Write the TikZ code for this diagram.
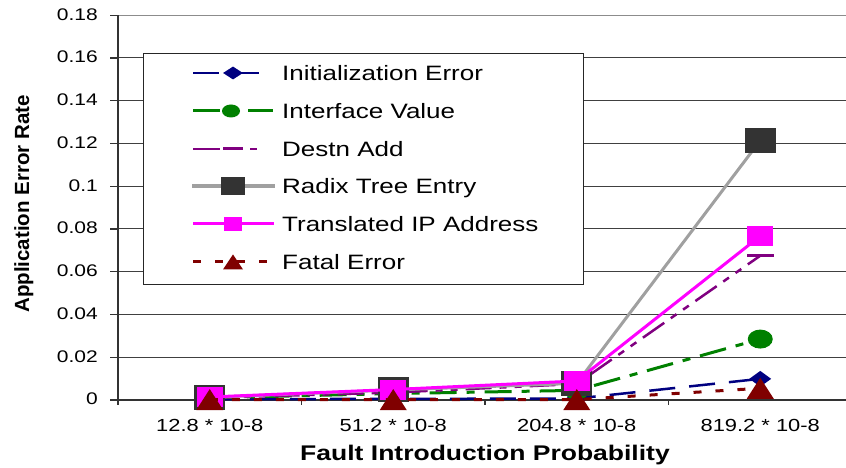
\documentclass[tikz,border=0pt]{standalone}
\usepackage{fontspec}
\usetikzlibrary{shapes.geometric}
\newfontfamily\chartfont{Liberation Sans}[FakeStretch=1.25]
\newfontfamily\plainfont{Liberation Sans}
\definecolor{initc}{RGB}{0,0,128}
\definecolor{ifacec}{RGB}{0,128,0}
\definecolor{destc}{RGB}{128,0,128}
\definecolor{radixc}{RGB}{160,160,160}
\definecolor{radixm}{RGB}{51,51,51}
\definecolor{transc}{RGB}{255,0,255}
\definecolor{fatalc}{RGB}{128,0,0}
\tikzset{
  grid line/.style={black!75, line width=1pt},
  axis line/.style={black!80, line width=1.2pt},
  ytick label/.style={font=\chartfont\fontsize{16.8}{18}\selectfont, anchor=base east, inner sep=0pt},
  xtick label/.style={font=\chartfont\fontsize{17.5}{20}\selectfont, anchor=base, inner sep=0pt},
  legend text/.style={font=\chartfont\fontsize{20.8}{24}\selectfont, anchor=base west, inner sep=0pt},
  init line/.style={initc, line width=2.5pt, dash pattern=on 26pt off 14pt},
  iface line/.style={ifacec, line width=3pt, dash pattern=on 27pt off 10pt on 8pt off 10pt},
  dest line/.style={destc, line width=2.5pt, dash pattern=on 26pt off 8pt on 7pt off 8pt on 7pt off 8pt},
  dest key/.style={destc, line width=2.5pt, dash pattern=on 27pt off 30pt on 7pt off 20pt},
  radix line/.style={radixc, line width=3pt},
  trans line/.style={transc, line width=3pt},
  fatal line/.style={fatalc, line width=3pt, dash pattern=on 8pt off 14pt},
  init mark/.style={diamond, fill=initc, inner sep=0pt, minimum width=22pt, minimum height=16pt},
  iface mark/.style={ellipse, fill=ifacec, inner sep=0pt, minimum width=25pt, minimum height=19pt},
  dest mark/.style={rectangle, fill=destc, inner sep=0pt, minimum width=27pt, minimum height=3pt},
  radix mark/.style={rectangle, fill=radixm, inner sep=0pt, minimum width=31pt, minimum height=25pt},
  trans mark/.style={rectangle, fill=transc, inner sep=0pt, minimum width=26pt, minimum height=20pt},
  fatal mark/.pic={\fill[fatalc] (-13.5pt,-10.5pt) -- (13.5pt,-10.5pt) -- (0pt,10.5pt) -- cycle;},
  fatal key/.pic={\fill[fatalc] (-10pt,-7.5pt) -- (10pt,-7.5pt) -- (0pt,7.5pt) -- cycle;},
}
\begin{document}
\begin{tikzpicture}[x=1pt, y=1pt]
\useasboundingbox (0,0) rectangle (846,468);

% horizontal gridlines, y tick marks and labels
\foreach \yy/\lab [count=\k] in {68/0, 110.75/0.02, 153.5/0.04, 196.25/0.06, 239/0.08,
    281.75/0.1, 324.5/0.12, 367.25/0.14, 410/0.16, 452.75/0.18} {
  \ifnum\k>1
    \ifnum\k<10
      \draw[grid line] (118,\yy) -- (846,\yy);
    \else
      \draw[black!45, line width=1pt] (118,\yy) -- (846,\yy);
    \fi
  \fi
  \draw[axis line] (110,\yy) -- (118,\yy);
  \node[ytick label] (yt\k) at (98,\yy-5) {\lab};
}

% axes and category ticks
\draw[axis line] (118,63) -- (118,452.75);
\draw[axis line] (118,68) -- (846,68);
\foreach \xx in {301.5, 485, 668.5}
  \draw[axis line] (\xx,68) -- (\xx,63);

% category labels and axis titles
\foreach \xx/\lab [count=\k] in {209.75/12.8, 393.25/51.2, 576.75/204.8, 760.25/819.2}
  \node[xtick label] (xt\k) at (\xx,36) {\lab\ * 10-8};
\node[font=\chartfont\bfseries\fontsize{21.2}{24}\selectfont, anchor=base, inner sep=0pt]
  (xtitle) at (485,7.5) {Fault Introduction Probability};
\node[font=\plainfont\bfseries\fontsize{20.5}{24}\selectfont, rotate=90, anchor=base, inner sep=0pt]
  (ytitle) at (29,264) {Application Error Rate};

% data points: one unit on the y axis is a rate of 1
\begin{scope}[yshift=68pt, y=2137.5pt]
  \foreach \n/\a/\b/\c/\d in {i/0.0004/0.0005/0.0007/0.0099,
      v/0.0010/0.0030/0.0045/0.0285,
      d/0.0010/0.0035/0.0075/0.0675,
      r/0.0012/0.0047/0.0078/0.1214,
      t/0.0014/0.0049/0.0089/0.0767,
      f/0.0002/0.0002/0.0002/0.0055} {
    \coordinate (\n1) at (209.75,\a);
    \coordinate (\n2) at (393.25,\b);
    \coordinate (\n3) at (576.75,\c);
    \coordinate (\n4) at (760.25,\d);
  }
\end{scope}

% Initialization Error
\draw[init line] (i1) -- (i2) -- (i3) -- (i4);
\foreach \k in {1,...,4} \node[init mark] (mi\k) at (i\k) {};
% Interface Value
\draw[iface line] (v1) -- (v2) -- (v3) -- (v4);
\foreach \k in {1,...,4} \node[iface mark] (mv\k) at (v\k) {};
% Destn Add
\draw[dest line] (d1) -- (d2) -- (d3) -- (d4);
\foreach \k in {1,...,4} \node[dest mark] (md\k) at (d\k) {};
% Radix Tree Entry
\draw[radix line] (r1) -- (r2) -- (r3) -- (r4);
\foreach \k in {1,...,4} \node[radix mark] (mr\k) at (r\k) {};
% Translated IP Address
\draw[trans line] (t1) -- (t2) -- (t3) -- (t4);
\foreach \k in {1,...,4} \node[trans mark] (mt\k) at (t\k) {};
% Fatal Error
\draw[fatal line] (f1) -- (f2) -- (f3) -- (f4);
\foreach \k in {1,...,4} \pic at (f\k) {fatal mark};

% legend
\node[draw=black!85, fill=white, line width=1pt, inner sep=0pt, minimum width=440pt,
  minimum height=231pt, anchor=north west] (legend) at (143,415) {};
\draw[init line] (193,395) -- (273,395);
\node[init mark, minimum width=20pt, minimum height=13pt] (ki) at (233,395) {};
\node[legend text] (li) at (282,387.7) {Initialization Error};
\draw[iface line] (193,357) -- (273,357);
\node[iface mark, minimum width=18pt, minimum height=13pt] (kv) at (231,357) {};
\node[legend text] (lv) at (282,349.7) {Interface Value};
\draw[dest key] (193,319) -- (273,319);
\node[dest mark, minimum width=20pt] (kd) at (233,319) {};
\node[legend text] (ld) at (282,311.7) {Destn Add};
\draw[radix line, line width=4pt] (192,282) -- (275,282);
\node[radix mark, minimum width=24pt, minimum height=18pt] (kr) at (233,282) {};
\node[legend text] (lr) at (282,274.7) {Radix Tree Entry};
\draw[trans line] (193,244) -- (274,244);
\node[trans mark, minimum width=18pt, minimum height=14pt] (kt) at (233,244) {};
\node[legend text] (lt) at (282,236.7) {Translated IP Address};
\draw[fatal line] (193,206) -- (273,206);
\pic at (233,206) {fatal key};
\node[legend text] (lf) at (282,198.7) {Fatal Error};
\end{tikzpicture}
\end{document}
